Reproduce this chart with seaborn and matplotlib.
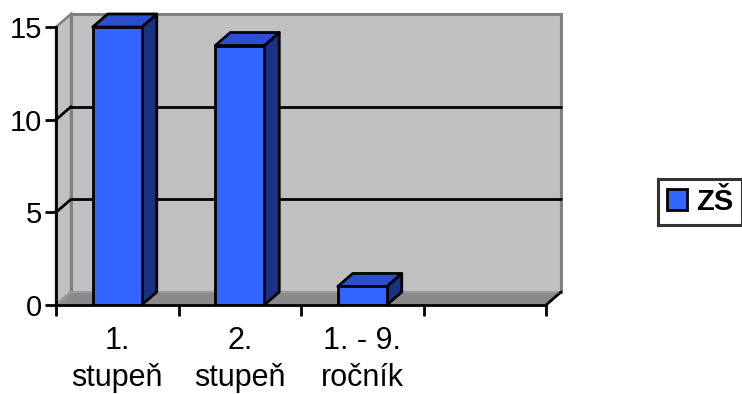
import matplotlib
matplotlib.use("Agg")
import matplotlib.pyplot as plt
import seaborn as sns
import pandas as pd
from matplotlib.patches import Polygon, Patch

# Data
categories = ["1.\nstupeň", "2.\nstupeň", "1. - 9.\nročník"]
values = [15, 14, 1]
series_name = "ZŠ"
y_ticks = [0, 5, 10, 15]

df = pd.DataFrame({"kategorie": categories, "počet": values})

sns.set_style("white")
plt.rcParams["font.family"] = ["Liberation Sans", "DejaVu Sans"]
plt.rcParams["text.color"] = "black"
plt.rcParams["xtick.color"] = "black"
plt.rcParams["ytick.color"] = "black"

W, H = 742, 394
fig = plt.figure(figsize=(W / 100, H / 100), dpi=100)
# plot area (front plane) in pixels: x 56..546, y 27..305
ax = fig.add_axes([56 / W, 1 - 305 / H, 490 / W, 278 / H])

FRONT = "#3366FF"
TOP = "#2A4FCF"
SIDE = "#1B3282"
WALL = "#C0C0C0"
FLOOR = "#8A8A8A"
EDGE = "#808080"
LW = 2.0

sns.barplot(data=df, x="kategorie", y="počet", width=0.4, color=FRONT,
            edgecolor="black", linewidth=LW, saturation=1, ax=ax, zorder=5)

ax.set_xlim(-0.5, 3.5)
ax.set_ylim(0, 15)
ax.set_xlabel("")
ax.set_ylabel("")

# depth offset of the 3D box, converted from pixels to data units
px_x = 490 / 4.0
px_y = 278 / 15.0
dx = 15 / px_x
dy = 13 / px_y

x0, x1 = -0.5, 3.5
ymax = 15

# back wall
ax.add_patch(Polygon([(x0 + dx, dy), (x1 + dx, dy), (x1 + dx, ymax + dy), (x0 + dx, ymax + dy)],
                     closed=True, facecolor=WALL, edgecolor=EDGE, linewidth=2.2,
                     clip_on=False, zorder=0))
# left side wall
ax.add_patch(Polygon([(x0, 0), (x0 + dx, dy), (x0 + dx, ymax + dy), (x0, ymax)],
                     closed=True, facecolor=WALL, edgecolor=EDGE, linewidth=1.8,
                     clip_on=False, zorder=0.5))
# floor
ax.add_patch(Polygon([(x0, 0), (x1, 0), (x1 + dx, dy), (x0 + dx, dy)],
                     closed=True, facecolor=FLOOR, edgecolor="#A0A0A0", linewidth=1.2,
                     clip_on=False, zorder=1))
# right floor edge
ax.plot([x1, x1 + dx], [0, dy], color="black", lw=LW, clip_on=False, zorder=2)

# gridlines on back wall and left wall
for yv in y_ticks[1:-1]:
    ax.plot([x0 + dx, x1 + dx], [yv + dy, yv + dy], color="black", lw=LW,
            clip_on=False, zorder=1.5)
    ax.plot([x0, x0 + dx], [yv, yv + dy], color="black", lw=LW,
            clip_on=False, zorder=1.5)

# 3D sides and tops of each bar
for bar in list(ax.patches):
    if not hasattr(bar, "get_x") or bar.get_height() <= 0:
        continue
    bx = bar.get_x()
    bw = bar.get_width()
    bh = bar.get_height()
    if bw > 1:
        continue
    side = Polygon([(bx + bw, 0), (bx + bw + dx, dy), (bx + bw + dx, bh + dy), (bx + bw, bh)],
                   closed=True, facecolor=SIDE, edgecolor="black", linewidth=LW,
                   joinstyle="round", clip_on=False, zorder=4)
    top = Polygon([(bx, bh), (bx + bw, bh), (bx + bw + dx, bh + dy), (bx + dx, bh + dy)],
                  closed=True, facecolor=TOP, edgecolor="black", linewidth=LW,
                  joinstyle="round", clip_on=False, zorder=4)
    ax.add_patch(side)
    ax.add_patch(top)

# axes
for s in ["top", "right"]:
    ax.spines[s].set_visible(False)
for s in ["left", "bottom"]:
    ax.spines[s].set_color("black")
    ax.spines[s].set_linewidth(LW)
    ax.spines[s].set_zorder(6)
ax.set_facecolor("none")

ax.set_yticks(y_ticks)
ax.set_yticklabels([str(v) for v in y_ticks])
ax.tick_params(axis="y", direction="out", length=8, width=LW, pad=2,
               labelsize=21, colors="black", left=True)

ax.set_xticks([-0.5, 0.5, 1.5, 2.5, 3.5])
ax.set_xticklabels([])
ax.set_xticks(range(len(categories)), minor=True)
ax.set_xticklabels(categories, minor=True, fontsize=22, linespacing=1.33,
                   color="black")
ax.tick_params(axis="x", which="major", direction="out", length=8, width=LW,
               bottom=True, colors="black")
ax.tick_params(axis="x", which="minor", length=0, pad=15, bottom=True)

# legend
handle = Patch(facecolor=FRONT, edgecolor="black", linewidth=LW, label=series_name)
leg = fig.legend(handles=[handle], loc="upper left",
                 bbox_to_anchor=(658 / W, 1 - 179 / H),
                 prop={"size": 21, "weight": "bold"}, frameon=True, fancybox=False,
                 handlelength=0.7, handleheight=0.7, handletextpad=0.3,
                 borderpad=0.3, borderaxespad=0)
leg.get_frame().set_edgecolor("black")
leg.get_frame().set_linewidth(2.2)
for t in leg.get_texts():
    t.set_color("black")

fig.savefig("out.png", dpi=100)
